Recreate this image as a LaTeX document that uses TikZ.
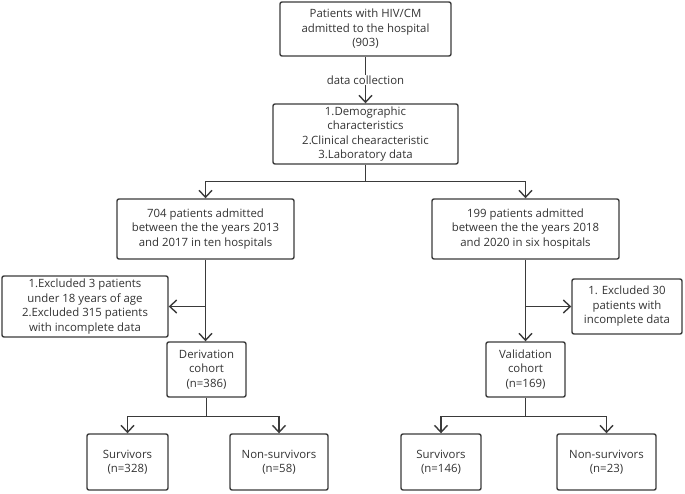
\documentclass[tikz,border=0pt]{standalone}
\usepackage{fontspec}
\setmainfont{Open Sans}
\usetikzlibrary{calc,arrows.meta}
\definecolor{linegray}{HTML}{3A3A3A}
\definecolor{textgray}{HTML}{333333}
\tikzset{
	flowbox/.style={draw=linegray,line width=1.4pt,rounded corners=2pt,align=center,
		inner sep=0pt,text=textgray,font=\fontsize{11.4}{14.5}\selectfont},
	flowarrow/.style={draw=linegray,line width=1.4pt,-{Straight Barb[length=7pt,width=13pt,line width=1.4pt]}},
	flowline/.style={draw=linegray,line width=1.4pt}
}

\begin{document}
\begin{tikzpicture}[x=1pt,y=-1pt]
		\useasboundingbox (0,0) rectangle (685,493);
		% top part
		\node (top) at (365.5,29) [flowbox,minimum width=171pt,minimum height=54pt] {Patients with HIV/CM\\admitted to the hospital\\(903)};
		\node (info) at (365.5,134) [flowbox,minimum width=185pt,minimum height=60pt] {1.Demographic\\characteristics\\2.Clinical chearacteristic\\3.Laboratory data};
		\draw[flowarrow] (top) -- node[fill=white,text=textgray,font=\fontsize{11.4}{14.5}\selectfont,inner sep=1pt] {data collection} (info);
		% two cohorts
		\node (left) at (205.5,229) [flowbox,minimum width=177pt,minimum height=60pt] {704 patients admitted\\between the the years 2013\\and 2017 in ten hospitals};
		\node (right) at (525.5,229) [flowbox,minimum width=187pt,minimum height=60pt] {199 patients admitted\\between the the years 2018\\and 2020 in six hospitals};
		\coordinate (split) at ($(info.south) + (0,17)$);
		\draw[flowline] (info.south) -- (split);
		\draw[flowarrow] (split) -| (left.north);
		\draw[flowarrow] (split) -| (right.north);
		% exclusions
		\node (exL) at (85,306.5) [flowbox,minimum width=166pt,minimum height=61pt] {1.Excluded 3 patients\\under 18 years of age\\2.Excluded 315 patients\\with incomplete data};
		\node (exR) at (627,306.5) [flowbox,minimum width=110pt,minimum height=55pt] {1. Excluded 30\\patients with\\incomplete data};
		\node (der) at (206.5,369.5) [flowbox,minimum width=79pt,minimum height=55pt] {Derivation\\cohort\\(n=386)};
		\node (val) at (525.5,369.5) [flowbox,minimum width=79pt,minimum height=55pt] {Validation\\cohort\\(n=169)};
		\draw[flowarrow] (left.south) -- (left.south |- der.north);
		\draw[flowarrow] (right.south) -- (right.south |- val.north);
		\draw[flowarrow] (left.south |- exL.east) -- (exL.east);
		\draw[flowarrow] (right.south |- exR.west) -- (exR.west);
		% outcomes
		\node (survL) at (127.5,462) [flowbox,minimum width=81pt,minimum height=56pt] {Survivors\\(n=328)};
		\node (nonL) at (279,462) [flowbox,minimum width=98pt,minimum height=56pt] {Non-survivors\\(n=58)};
		\node (survR) at (441,462) [flowbox,minimum width=80pt,minimum height=56pt] {Survivors\\(n=146)};
		\node (nonR) at (606.5,462) [flowbox,minimum width=99pt,minimum height=56pt] {Non-survivors\\(n=23)};
		\coordinate (splitL) at ($(der.south) + (0,19)$);
		\coordinate (splitR) at ($(val.south) + (0,19)$);
		\draw[flowline] (der.south) -- (splitL);
		\draw[flowarrow] (splitL) -| (survL.north);
		\draw[flowarrow] (splitL) -| (nonL.north);
		\draw[flowline] (val.south) -- (splitR);
		\draw[flowarrow] (splitR) -| (survR.north);
		\draw[flowarrow] (splitR) -| (nonR.north);
	\end{tikzpicture}
\end{document}
